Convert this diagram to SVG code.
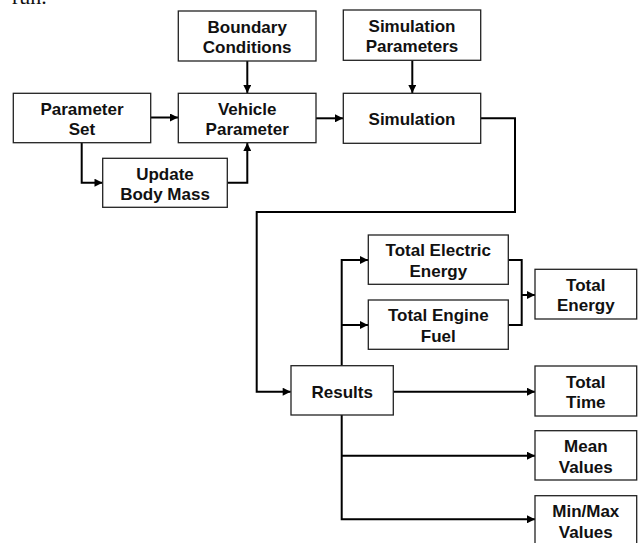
<svg xmlns="http://www.w3.org/2000/svg" width="639" height="543" viewBox="0 0 639 543">
<style>
.box{fill:#fff;stroke:#222;stroke-width:1.3}
.t{font-family:"Liberation Sans",Arial,sans-serif;font-weight:bold;font-size:17px;fill:#111;text-anchor:middle}
.c{fill:none;stroke:#000;stroke-width:2}
</style>
<defs>
<marker id="a" viewBox="0 0 10 10" refX="10" refY="5" markerWidth="5" markerHeight="5" orient="auto" markerUnits="userSpaceOnUse"><path d="M0,0L10,5L0,10z" fill="#000"/></marker>
<marker id="ah" viewBox="0 0 10 10" refX="10" refY="5" markerWidth="10" markerHeight="8" orient="auto" markerUnits="userSpaceOnUse"><path d="M0,0L10,5L0,10z" fill="#000"/></marker>
</defs>
<text x="12" y="4" style="font-family:'Liberation Serif',serif;font-size:22px;fill:#111">run.</text>
<g id="connectors">
<path class="c" d="M247.3,61V93" marker-end="url(#ah)"/>
<path class="c" d="M150.7,117.5H178" marker-end="url(#ah)"/>
<path class="c" d="M81.7,142.7V182.7H102.5" marker-end="url(#ah)"/>
<path class="c" d="M227.3,182.7H247.3V143" marker-end="url(#ah)"/>
<path class="c" d="M316,118.3H343" marker-end="url(#ah)"/>
<path class="c" d="M412.3,60.3V93" marker-end="url(#ah)"/>
<path class="c" d="M480.7,118.3H515V212H256.7V391.7H290.7" marker-end="url(#ah)"/>
<path class="c" d="M341.7,365.7V260H368" marker-end="url(#ah)"/>
<path class="c" d="M341.7,325H368" marker-end="url(#ah)"/>
<path class="c" d="M508.3,260H521.7V325H508.3"/>
<path class="c" d="M521.7,295H535" marker-end="url(#ah)"/>
<path class="c" d="M393.3,391.7H535" marker-end="url(#ah)"/>
<path class="c" d="M341.7,415V519.3H535" marker-end="url(#ah)"/>
<path class="c" d="M341.7,455.7H535" marker-end="url(#ah)"/>
</g>
<g id="boundary"><rect class="box" x="178.3" y="11" width="137.7" height="50"/><text class="t" x="247.2" y="32.5">Boundary</text><text class="t" x="247.2" y="52.7">Conditions</text></g>
<g id="simparams"><rect class="box" x="343.3" y="10" width="137.4" height="50.3"/><text class="t" x="412" y="31.5">Simulation</text><text class="t" x="412" y="52">Parameters</text></g>
<g id="paramset"><rect class="box" x="13.3" y="93.3" width="137.4" height="49.4"/><text class="t" x="82" y="114.5">Parameter</text><text class="t" x="82" y="135">Set</text></g>
<g id="vehicle"><rect class="box" x="178.3" y="93.3" width="137.7" height="49.4"/><text class="t" x="247.2" y="114.5">Vehicle</text><text class="t" x="247.2" y="135">Parameter</text></g>
<g id="simulation"><rect class="box" x="343.3" y="93.3" width="137.4" height="50"/><text class="t" x="412" y="124.5">Simulation</text></g>
<g id="update"><rect class="box" x="102.7" y="158.3" width="124.6" height="49"/><text class="t" x="165" y="179.5">Update</text><text class="t" x="165" y="200">Body Mass</text></g>
<g id="electric"><rect class="box" x="368.3" y="235" width="140" height="49.3"/><text class="t" x="438.3" y="256">Total Electric</text><text class="t" x="438.3" y="276.5">Energy</text></g>
<g id="fuel"><rect class="box" x="368.3" y="300" width="140" height="49.3"/><text class="t" x="438.3" y="321">Total Engine</text><text class="t" x="438.3" y="341.5">Fuel</text></g>
<g id="totalenergy"><rect class="box" x="535" y="269.3" width="101.7" height="49.7"/><text class="t" x="585.8" y="290.5">Total</text><text class="t" x="585.8" y="311">Energy</text></g>
<g id="results"><rect class="box" x="291" y="365.7" width="102.3" height="49.3"/><text class="t" x="342.2" y="397.5">Results</text></g>
<g id="totaltime"><rect class="box" x="535" y="366" width="101.7" height="50"/><text class="t" x="585.8" y="387.5">Total</text><text class="t" x="585.8" y="408">Time</text></g>
<g id="mean"><rect class="box" x="535" y="430.7" width="101.7" height="49.3"/><text class="t" x="585.8" y="452">Mean</text><text class="t" x="585.8" y="472.5">Values</text></g>
<g id="minmax"><rect class="box" x="535" y="495.7" width="101.7" height="50"/><text class="t" x="585.8" y="517">Min/Max</text><text class="t" x="585.8" y="537.5">Values</text></g>
</svg>
